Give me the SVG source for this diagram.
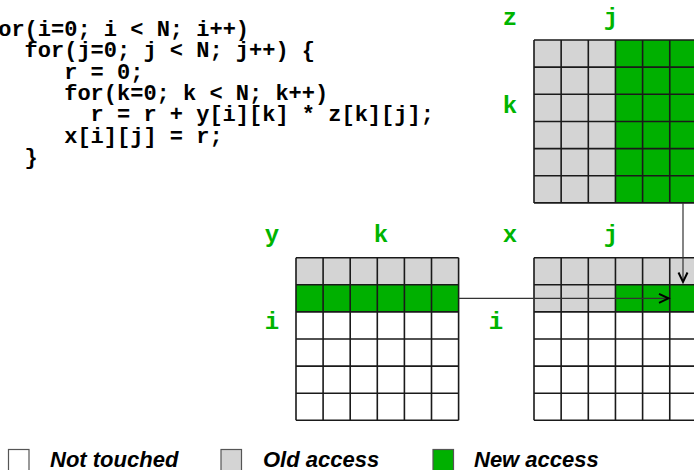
<svg xmlns="http://www.w3.org/2000/svg" width="694" height="470" viewBox="0 0 694 470">
<style>
.code{font-family:"Liberation Mono","Courier New",monospace;font-weight:bold;font-size:22px;fill:#000}
.lbl{font-family:"Liberation Mono","Courier New",monospace;font-weight:bold;font-size:24px;fill:#00b400;text-anchor:middle}
.leg{font-family:"Liberation Sans",Arial,sans-serif;font-weight:bold;font-style:italic;font-size:22px;fill:#000}
.gray{fill:#d4d4d4}
.green{fill:#00b000}
.white{fill:#fff}
.grid{fill:none;stroke:#1a1a1a;stroke-width:1.6}
.conn{fill:none;stroke:#333;stroke-width:1.2}
.sw{stroke:#555;stroke-width:1.2}
</style>
<defs>
<marker id="ah" markerUnits="userSpaceOnUse" markerWidth="14" markerHeight="14" viewBox="-2 -2 14 13" refX="9.5" refY="4.5" orient="auto">
<path d="M0,0 L9.5,4.5 L0,9" fill="none" stroke="#000" stroke-width="2"/>
</marker>
</defs>
<rect width="694" height="470" fill="#fff"/>
<g id="code">
<text class="code" x="-15" y="36">for(i=0; i &lt; N; i++)</text>
<text class="code" x="24.6" y="57.3">for(j=0; j &lt; N; j++) {</text>
<text class="code" x="64.2" y="78.6">r = 0;</text>
<text class="code" x="64.2" y="100">for(k=0; k &lt; N; k++)</text>
<text class="code" x="90.6" y="121.3">r = r + y[i][k] * z[k][j];</text>
<text class="code" x="64.2" y="142.6">x[i][j] = r;</text>
<text class="code" x="24.6" y="164">}</text>
</g>
<g id="matrix-z">
<text class="lbl" x="510" y="25">z</text>
<text class="lbl" x="611" y="25">j</text>
<text class="lbl" x="510" y="112.7">k</text>
<rect class="gray" x="534" y="40" width="81.45" height="162.9"/>
<rect class="green" x="615.45" y="40" width="81.45" height="162.9"/>
<path class="grid" d="M534,40V202.9M561.15,40V202.9M588.3,40V202.9M615.45,40V202.9M642.6,40V202.9M669.75,40V202.9M696.9,40V202.9M534,40H696.9M534,67.15H696.9M534,94.3H696.9M534,121.45H696.9M534,148.6H696.9M534,175.75H696.9M534,202.9H696.9"/>
</g>
<g id="matrix-y">
<text class="lbl" x="272" y="242">y</text>
<text class="lbl" x="381" y="242">k</text>
<text class="lbl" x="272" y="329">i</text>
<rect class="gray" x="296" y="257.7" width="162.6" height="27.1"/>
<rect class="green" x="296" y="284.8" width="162.6" height="27.1"/>
<rect class="white" x="296" y="311.9" width="162.6" height="108.4"/>
<path class="grid" d="M296,257.7V420.3M323.1,257.7V420.3M350.2,257.7V420.3M377.3,257.7V420.3M404.4,257.7V420.3M431.5,257.7V420.3M458.6,257.7V420.3M296,257.7H458.6M296,284.8H458.6M296,311.9H458.6M296,339H458.6M296,366.1H458.6M296,393.2H458.6M296,420.3H458.6"/>
</g>
<g id="matrix-x">
<text class="lbl" x="510" y="242">x</text>
<text class="lbl" x="611" y="242">j</text>
<text class="lbl" x="496" y="329">i</text>
<rect class="gray" x="534" y="257.7" width="162.9" height="27.1"/>
<rect class="gray" x="534" y="284.8" width="81.45" height="27.1"/>
<rect class="green" x="615.45" y="284.8" width="81.45" height="27.1"/>
<rect class="white" x="534" y="311.9" width="162.9" height="108.4"/>
<path class="grid" d="M534,257.7V420.3M561.15,257.7V420.3M588.3,257.7V420.3M615.45,257.7V420.3M642.6,257.7V420.3M669.75,257.7V420.3M696.9,257.7V420.3M534,257.7H696.9M534,284.8H696.9M534,311.9H696.9M534,339H696.9M534,366.1H696.9M534,393.2H696.9M534,420.3H696.9"/>
</g>
<g id="connectors">
<line class="conn" x1="683" y1="202.9" x2="683" y2="282" marker-end="url(#ah)"/>
<line class="conn" x1="458.6" y1="298.3" x2="668.5" y2="298.3" marker-end="url(#ah)"/>
</g>
<g id="legend">
<rect class="white sw" x="8.5" y="449.5" width="20.5" height="24"/>
<text class="leg" x="50" y="467.3">Not touched</text>
<rect class="gray sw" x="221" y="449.5" width="20.5" height="24"/>
<text class="leg" x="263" y="467.3">Old access</text>
<rect class="green sw" x="433" y="449.5" width="20.5" height="24"/>
<text class="leg" x="474" y="467.3">New access</text>
</g>
</svg>
